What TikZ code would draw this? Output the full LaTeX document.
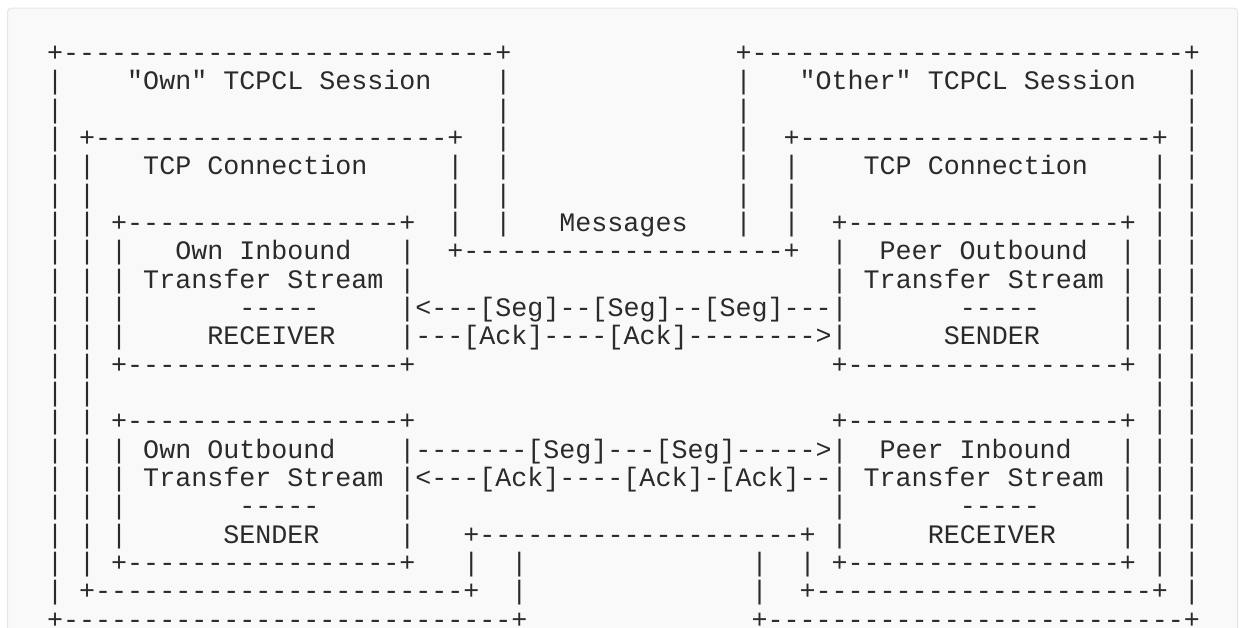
\documentclass[tikz,border=0pt]{standalone}
\usepackage{fontspec}
\setmonofont{Liberation Mono}
% runs of blanks and dashes in the ascii rows
\ExplSyntaxOn
\NewDocumentCommand\asp{m}{\prg_replicate:nn{#1}{\nobreakspace}}
\NewDocumentCommand\adash{m}{\prg_replicate:nn{#1}{-}}
\ExplSyntaxOff
\definecolor{pagebg}{HTML}{F9F9F9}
\definecolor{frameln}{HTML}{E6E6E6}
\definecolor{asctext}{HTML}{2A2A2A}
\tikzset{
  asc/.style={anchor=base west, inner sep=0pt, text=asctext,
    font=\ttfamily\fontsize{26.68}{28.35}\selectfont\frenchspacing}
}
\begin{document}
\begin{tikzpicture}[x=1pt, y=-1pt]
  \useasboundingbox[fill=white] (0,0) rectangle (1242,627);
  \clip (0,0) rectangle (1242,627);
  \draw[fill=pagebg, draw=frameln, line width=1pt, rounded corners=4pt] (7.5,8) rectangle (1237.5,660);
  % sessions, connections and streams, one row each
  \node[asc] (r0) at (47,61.30) {+\adash{27}+\asp{14}+\adash{27}+};
  \node[asc] (r1) at (47,89.65) {|\asp{4}"Own" TCPCL Session\asp{4}|\asp{14}|\asp{3}"Other" TCPCL Session\asp{3}|};
  \node[asc] (r2) at (47,118.00) {|\asp{27}|\asp{14}|\asp{27}|};
  \node[asc] (r3) at (47,146.35) {| +\adash{22}+\asp{2}|\asp{14}|\asp{2}+\adash{22}+ |};
  \node[asc] (r4) at (47,174.70) {| |\asp{3}TCP Connection\asp{5}|\asp{2}|\asp{14}|\asp{2}|\asp{4}TCP Connection\asp{4}| |};
  \node[asc] (r5) at (47,203.05) {| |\asp{22}|\asp{2}|\asp{14}|\asp{2}|\asp{22}| |};
  \node[asc] (r6) at (47,231.40) {| | +\adash{17}+\asp{2}|\asp{2}|\asp{3}Messages\asp{3}|\asp{2}|\asp{2}+\adash{17}+ | |};
  \node[asc] (r7) at (47,259.75) {| | |\asp{3}Own Inbound\asp{3}|\asp{2}+\adash{20}+\asp{2}|\asp{2}Peer Outbound\asp{2}| | |};
  \node[asc] (r8) at (47,288.10) {| | | Transfer Stream |\asp{26}| Transfer Stream | | |};
  \node[asc] (r9) at (47,316.45) {| | |\asp{7}-----\asp{5}|<---[Seg]--[Seg]--[Seg]---|\asp{7}-----\asp{5}| | |};
  \node[asc] (r10) at (47,344.80) {| | |\asp{5}RECEIVER\asp{4}|---[Ack]----[Ack]-------->|\asp{6}SENDER\asp{5}| | |};
  \node[asc] (r11) at (47,373.15) {| | +\adash{17}+\asp{26}+\adash{17}+ | |};
  \node[asc] (r12) at (47,401.50) {| |\asp{66}| |};
  \node[asc] (r13) at (47,429.85) {| | +\adash{17}+\asp{26}+\adash{17}+ | |};
  \node[asc] (r14) at (47,458.20) {| | | Own Outbound\asp{4}|-------[Seg]---[Seg]----->|\asp{2}Peer Inbound\asp{3}| | |};
  \node[asc] (r15) at (47,486.55) {| | | Transfer Stream |<---[Ack]----[Ack]-[Ack]--| Transfer Stream | | |};
  \node[asc] (r16) at (47,514.90) {| | |\asp{7}-----\asp{5}|\asp{26}|\asp{7}-----\asp{5}| | |};
  \node[asc] (r17) at (47,543.25) {| | |\asp{6}SENDER\asp{5}|\asp{3}+\adash{20}+ |\asp{5}RECEIVER\asp{4}| | |};
  \node[asc] (r18) at (47,571.60) {| | +\adash{17}+\asp{3}|\asp{2}|\asp{14}|\asp{2}| +\adash{17}+ | |};
  \node[asc] (r19) at (47,599.95) {| +\adash{23}+\asp{2}|\asp{14}|\asp{2}+\adash{21}+ |};
  \node[asc] (r20) at (47,628.30) {+\adash{28}+\asp{14}+\adash{26}+};
\end{tikzpicture}
\end{document}
